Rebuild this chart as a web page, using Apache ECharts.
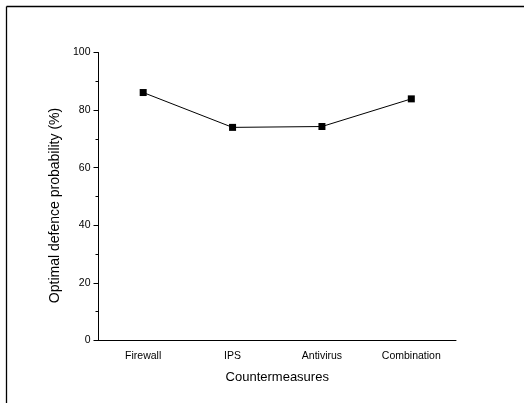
<!DOCTYPE html>
<html>
<head>
<meta charset="utf-8">
<script src="https://cdn.jsdelivr.net/npm/echarts@6/dist/echarts.min.js"></script>
<style>html,body{margin:0;padding:0;background:#fff;}#c{width:524px;height:403px;}</style>
</head>
<body>
<div id="c"></div>
<script>
var categories = ['Firewall', 'IPS', 'Antivirus', 'Combination'];
var values = [86.1, 74.0, 74.3, 83.9];
var yTicks = [0, 20, 40, 60, 80, 100];

var font = 'Liberation Sans, Arial, sans-serif';
var chart = echarts.init(document.getElementById('c'), null, {renderer: 'canvas'});
chart.setOption({
  animation: false,
  backgroundColor: '#fff',
  grid: {left: 98.5, top: 52.5, right: 68, bottom: 62.5, containLabel: false},
  graphic: [
    {type: 'line', shape: {x1: 6.5, y1: 6.5, x2: 524, y2: 6.5}, style: {stroke: '#000', lineWidth: 1.3}},
    {type: 'line', shape: {x1: 6.5, y1: 6.5, x2: 6.5, y2: 403}, style: {stroke: '#000', lineWidth: 1.3}}
  ],
  xAxis: [{
    type: 'category',
    data: categories,
    boundaryGap: true,
    name: 'Countermeasures',
    nameLocation: 'middle',
    nameGap: 30,
    nameTextStyle: {fontFamily: font, fontSize: 13, color: '#000'},
    axisLine: {lineStyle: {color: '#000', width: 1}},
    axisTick: {alignWithLabel: true, length: 4, lineStyle: {color: '#000'}},
    axisLabel: {fontFamily: font, fontSize: 10.5, color: '#000', margin: 10},
    splitLine: {show: false}
  }, {
    type: 'category',
    data: categories,
    position: 'bottom',
    boundaryGap: true,
    axisLine: {show: false},
    axisTick: {alignWithLabel: false, length: 2, inside: true, lineStyle: {color: '#000'}},
    axisLabel: {show: false},
    splitLine: {show: false}
  }],
  yAxis: {
    type: 'value',
    min: 0, max: 100, interval: 20,
    name: 'Optimal defence probability (%)',
    nameLocation: 'middle',
    nameGap: 34,
    nameRotate: 90,
    nameTextStyle: {fontFamily: font, fontSize: 14, color: '#000', padding: [0, 18, 0, 0]},
    axisLine: {show: true, lineStyle: {color: '#000', width: 1}},
    axisTick: {show: true, length: 5, lineStyle: {color: '#000'}},
    minorTick: {show: true, splitNumber: 2, length: 3, lineStyle: {color: '#000'}},
    axisLabel: {fontFamily: font, fontSize: 10.5, color: '#000', margin: 8,
      formatter: function (v) { return yTicks.indexOf(v) >= 0 ? String(v) : ''; }},
    splitLine: {show: false}
  },
  series: [{
    type: 'line',
    data: values,
    xAxisIndex: 0,
    symbol: 'rect',
    symbolSize: 7,
    itemStyle: {color: '#000'},
    lineStyle: {color: '#000', width: 1}
  }]
});
</script>
</body>
</html>
